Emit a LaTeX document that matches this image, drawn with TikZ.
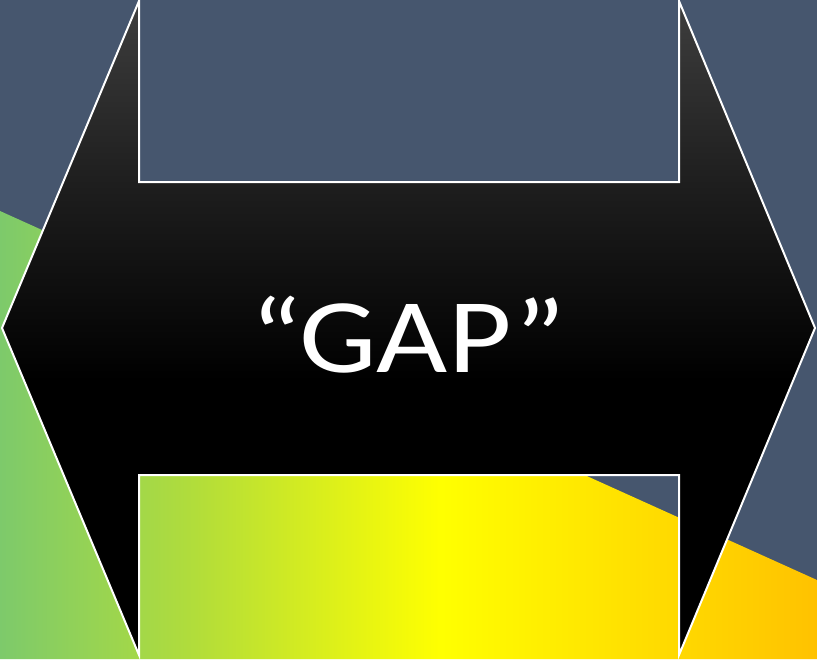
\documentclass[tikz,border=0pt]{standalone}
\usepackage{fontspec}
\setmainfont{Carlito}
\usetikzlibrary{positioning, calc, shadings}
\definecolor{SlateBG}{HTML}{46566E}
\definecolor{BandGreen}{HTML}{7DCA6B}
\definecolor{BandLime}{HTML}{B2DD3A}
\definecolor{BandYellow}{HTML}{FFFF00}
\definecolor{BandGold}{HTML}{FFC200}
\definecolor{ArrowTop}{HTML}{3E3E3E}
\definecolor{ArrowMid}{HTML}{1E1E1E}
\pgfdeclarehorizontalshading{bandshade}{100bp}{color(0bp)=(BandGreen); color(25bp)=(BandGreen);
  color(37bp)=(BandLime); color(52bp)=(BandYellow); color(75bp)=(BandGold); color(100bp)=(BandGold)}
\pgfdeclareverticalshading{arrowshade}{100bp}{color(0bp)=(black); color(46bp)=(black);
  color(61bp)=(ArrowMid); color(75bp)=(ArrowTop); color(100bp)=(ArrowTop)}
\tikzset{
  gapband/.style  = {shading=bandshade},
  gaparrow/.style = {shading=arrowshade, draw=white, line width=2pt, line join=miter},
  gaplbl/.style   = {text=white, font=\fontsize{106}{120}\selectfont, inner sep=0pt,
                     anchor=base, xscale=1.16, transform shape},
}
\begin{document}
\begin{tikzpicture}[x=1pt, y=-1pt]
    \fill[SlateBG] (0,0) rectangle (817,659);
    \useasboundingbox (0,0) rectangle (817,659);
    \shade[gapband] (0,211) -- (817,580) -- (817,659) -- (0,659) -- cycle;
    % double arrow
    \shade[gaparrow] (2,328) -- (139,1) -- (139,182) -- (679,182) -- (679,1) -- (815,328)
      -- (679,655) -- (679,475) -- (139,475) -- (139,655) -- cycle;
    \node[gaplbl] (gap) at (408,372) {“GAP”};
  \end{tikzpicture}
\end{document}
